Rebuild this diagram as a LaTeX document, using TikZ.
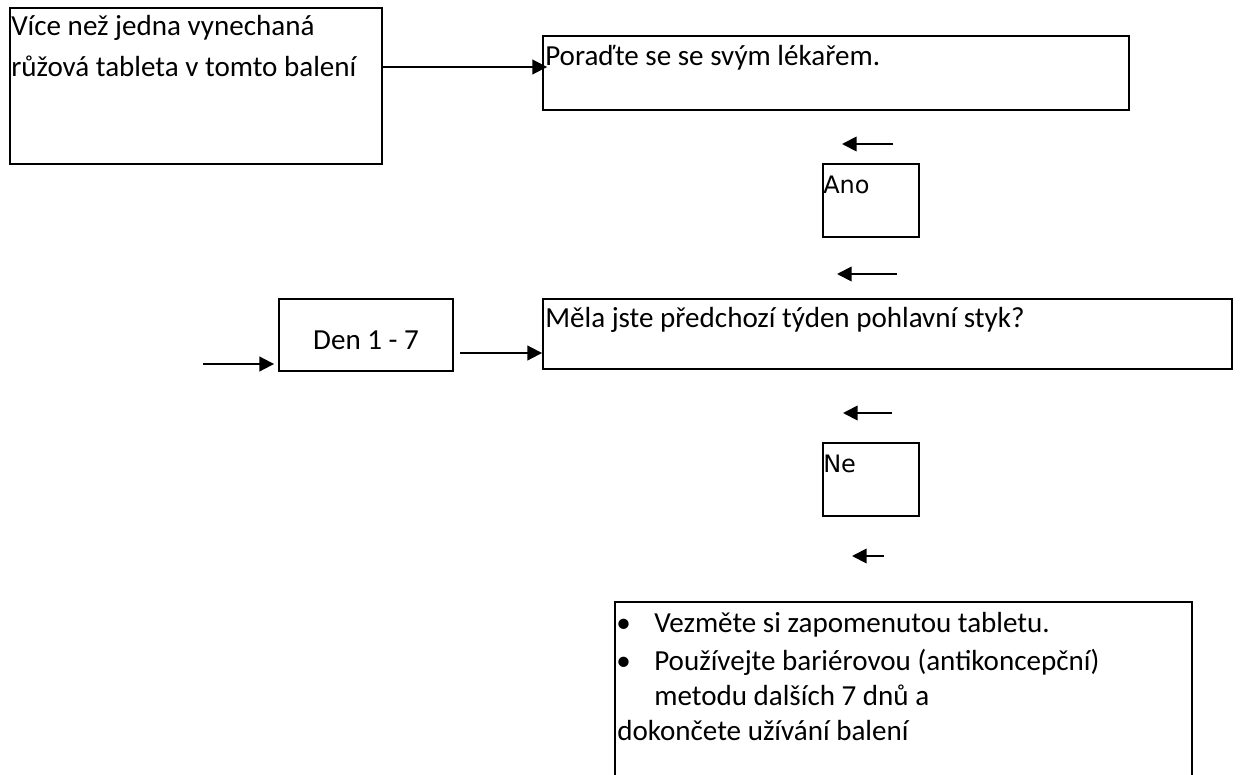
\documentclass[tikz,border=0pt]{standalone}
\usepackage{fontspec}
\setmainfont{Carlito}
\newfontfamily\dejavu{DejaVu Sans}
\usetikzlibrary{arrows.meta,fit}
\begin{document}
\begin{tikzpicture}[x=0.75pt,y=-0.75pt,
  box/.style={draw=black,line width=1.4pt,inner sep=0pt,fit={#1}},
  txt/.style={inner sep=0pt,anchor=base west,font=\fontsize{21.8}{29}\selectfont},
  dtxt/.style={inner sep=0pt,anchor=base west,font=\dejavu\fontsize{18}{22}\selectfont},
  arr/.style={line width=1.4pt,-{Triangle[length=11pt,width=11pt]}}]
\useasboundingbox (0,0) rectangle (1244,774);
% boxes
\node[box={(10,8) (382,164)}] (A) {};
\node[box={(543,36) (1129,110)}] (B) {};
\node[box={(823,164) (919,237)}] (ano) {};
\node[box={(279,299) (453,371)}] (D) {};
\node[box={(543,299) (1232,369)}] (M) {};
\node[box={(823,443) (919,516)}] (ne) {};
\begin{scope}
\clip (0,0) rectangle (1244,774);
\node[box={(615,602) (1192,800)}] (L) {};
\end{scope}
% texts
\node[txt] (tA1) at (11,36) {Více než jedna vynechaná};
\node[txt] (tA2) at (11,76) {růžová tableta v tomto balení};
\node[txt] (tB) at (545,65) {Poraďte se se svým lékařem.};
\node[dtxt] (tano) at (823,193) {Ano};
\node[txt,anchor=base] (tD) at (366,349) {Den 1 - 7};
\node[txt] (tM) at (545,327) {Měla jste předchozí týden pohlavní styk?};
\node[dtxt] (tne) at (823,472) {Ne};
\node[txt] (b1) at (616,632) {•};
\node[txt] (tL1) at (654,632) {Vezměte si zapomenutou tabletu.};
\node[txt] (b2) at (616,670) {•};
\node[txt] (tL2) at (654,670) {Používejte bariérovou (antikoncepční)};
\node[txt] (tL3) at (654,705) {metodu dalších 7 dnů a};
\node[txt] (tL4) at (617,740) {dokončete užívání balení};
% connectors
\coordinate (yAB) at (0,67);
\draw[arr,shorten >=-3.75pt] (A.east |- yAB) -- (B.west |- yAB);
\coordinate (inS) at (203,364);
\draw[arr,shorten >=3pt] (inS) -- (D.west |- inS);
\coordinate (yDM) at (0,353);
\draw[arr] ([xshift=4.5pt]D.east |- yDM) -- (M.west |- yDM);
% free arrows
\coordinate (f1s) at (893,144); \coordinate (f1e) at (842,144);
\draw[arr] (f1s) -- (f1e);
\coordinate (f2s) at (897,274); \coordinate (f2e) at (837,274);
\draw[arr] (f2s) -- (f2e);
\coordinate (f3s) at (892,413); \coordinate (f3e) at (843,413);
\draw[arr] (f3s) -- (f3e);
\coordinate (f4s) at (884,556); \coordinate (f4e) at (852,556);
\draw[arr] (f4s) -- (f4e);
\end{tikzpicture}
\end{document}
